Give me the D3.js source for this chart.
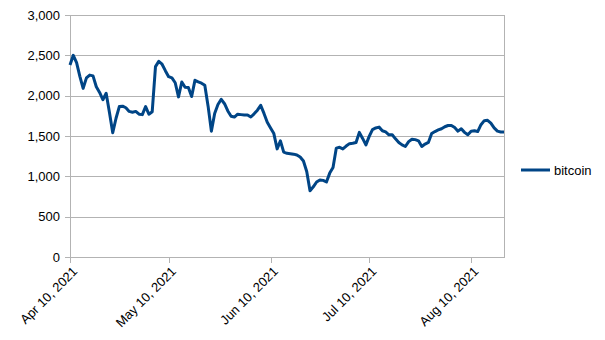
<!DOCTYPE html>
<html>
<head>
<meta charset="utf-8">
<script src="https://cdn.jsdelivr.net/npm/d3@7"></script>
<style>
  body { margin: 0; background: #fff; }
  svg { display: block; font-family: "Liberation Sans", Arial, sans-serif; }
</style>
</head>
<body>
<svg id="chart" width="605" height="340"></svg>
<script>
// Daily bitcoin series, starting 2021-04-10
const startDate = "2021-04-10";
const seriesName = "bitcoin";
const bitcoin = [
  2380, 2500, 2410, 2240, 2090, 2220, 2255, 2245, 2110, 2040,
  1950, 2030, 1790, 1540, 1720, 1865, 1870, 1850, 1805, 1795,
  1805, 1770, 1765, 1865, 1770, 1800, 2360, 2425, 2390, 2310,
  2235, 2220, 2160, 1985, 2170, 2105, 2100, 1990, 2190, 2170,
  2155, 2130, 1870, 1560, 1780, 1890, 1955, 1900, 1810, 1745,
  1735, 1770, 1765, 1760, 1760, 1735, 1775, 1820, 1880, 1780,
  1670, 1600, 1530, 1340, 1440, 1300, 1285, 1280, 1275, 1265,
  1240, 1190, 1060, 820, 870, 930, 955, 950, 930, 1040,
  1110, 1350, 1360, 1340, 1375, 1405, 1410, 1420, 1545, 1470,
  1390, 1495, 1580, 1600, 1610, 1565, 1550, 1515, 1515, 1465,
  1420, 1390, 1370, 1430, 1460, 1455, 1440, 1370, 1400, 1420,
  1530, 1555, 1575, 1590, 1615, 1630, 1630, 1605, 1560, 1590,
  1545, 1515, 1560, 1565, 1555, 1640, 1690, 1695, 1660, 1600,
  1560, 1550, 1550
];
const yTicks = [0, 500, 1000, 1500, 2000, 2500, 3000];
const xTickDates = ["2021-04-10", "2021-05-10", "2021-06-10", "2021-07-10", "2021-08-10"];

const parse = d3.utcParse("%Y-%m-%d");
const t0 = parse(startDate);
const points = bitcoin.map((v, i) => ({ date: d3.utcDay.offset(t0, i), value: v }));

const svg = d3.select("#chart");
const plotLeft = 70, plotRight = 504, plotTop = 15, plotBottom = 257;

const x = d3.scaleUtc()
  .domain([t0, points[points.length - 1].date])
  .range([plotLeft, plotRight]);
const y = d3.scaleLinear().domain([0, 3000]).range([plotBottom, plotTop]);

const grid = "#b3b3b3";

// horizontal gridlines with short outward ticks
svg.append("g")
  .selectAll("line")
  .data(yTicks)
  .join("line")
  .attr("x1", plotLeft - 5).attr("x2", plotRight)
  .attr("y1", d => Math.round(y(d)) + 0.5).attr("y2", d => Math.round(y(d)) + 0.5)
  .attr("stroke", grid).attr("stroke-width", 1);

// y axis line and right wall
svg.append("line")
  .attr("x1", plotLeft + 0.5).attr("x2", plotLeft + 0.5)
  .attr("y1", plotTop).attr("y2", plotBottom + 6)
  .attr("stroke", grid);
svg.append("line")
  .attr("x1", plotRight + 0.5).attr("x2", plotRight + 0.5)
  .attr("y1", plotTop).attr("y2", plotBottom + 1)
  .attr("stroke", grid);

// y tick labels
const fmtNum = d3.format(",");
svg.append("g")
  .selectAll("text")
  .data(yTicks)
  .join("text")
  .attr("x", plotLeft - 10)
  .attr("y", d => y(d))
  .attr("dy", "0.35em")
  .attr("text-anchor", "end")
  .attr("font-size", 13)
  .attr("fill", "#000")
  .text(d => fmtNum(d));

// x ticks and rotated date labels
const fmtDate = d3.utcFormat("%b %d, %Y");
const xt = xTickDates.map(parse);
svg.append("g")
  .selectAll("line")
  .data(xt)
  .join("line")
  .attr("x1", d => Math.round(x(d)) + 0.5).attr("x2", d => Math.round(x(d)) + 0.5)
  .attr("y1", plotBottom).attr("y2", plotBottom + 6)
  .attr("stroke", grid);

svg.append("g")
  .selectAll("text")
  .data(xt)
  .join("text")
  .attr("transform", d => `translate(${x(d) + 5},${plotBottom + 12}) rotate(-45)`)
  .attr("text-anchor", "end")
  .attr("dy", "0.35em")
  .attr("font-size", 13)
  .attr("fill", "#000")
  .text(d => fmtDate(d));

// series line
const line = d3.line()
  .x(d => x(d.date))
  .y(d => y(d.value));
svg.append("path")
  .datum(points)
  .attr("d", line)
  .attr("fill", "none")
  .attr("stroke", "#004586")
  .attr("stroke-width", 3)
  .attr("stroke-linejoin", "round");

// legend
const lg = svg.append("g").attr("transform", "translate(521,170)");
lg.append("line")
  .attr("x1", 0).attr("x2", 29)
  .attr("y1", 0).attr("y2", 0)
  .attr("stroke", "#004586").attr("stroke-width", 3);
lg.append("text")
  .attr("x", 33).attr("y", 0).attr("dy", "0.35em")
  .attr("font-size", 13).attr("fill", "#000")
  .text(seriesName);
</script>
</body>
</html>
